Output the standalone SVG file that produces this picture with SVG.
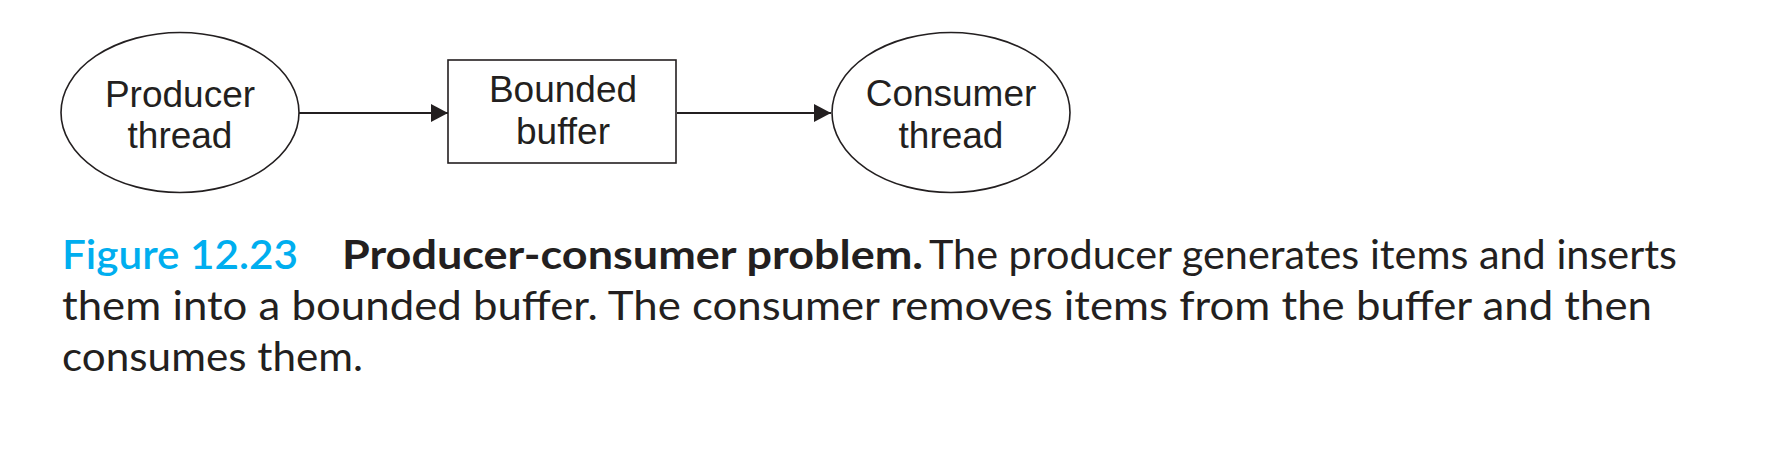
<svg xmlns="http://www.w3.org/2000/svg" width="1780" height="470" viewBox="0 0 1780 470">
<defs>
<style>
.shape{fill:#fff;stroke:#231f20;stroke-width:1.6}
.lbl{font-family:"Liberation Sans",Arial,sans-serif;font-size:37px;fill:#231f20;text-anchor:middle}
.edge{stroke:#231f20;stroke-width:2.2;fill:none}
.cap{font-family:Lato,"Noto Sans",sans-serif;font-size:40px;fill:#231f20}
.fig{fill:#00aeef;font-weight:600}
.b{font-weight:bold}
</style>
<marker id="ah" markerUnits="userSpaceOnUse" markerWidth="17" markerHeight="18" refX="17" refY="9" orient="auto">
<path d="M0,0 L17,9 L0,18 Z" fill="#231f20"/>
</marker>
</defs>
<rect width="1780" height="470" fill="#fff"/>
<g id="connectors">
<line class="edge" x1="299" y1="113" x2="448" y2="113" marker-end="url(#ah)"/>
<line class="edge" x1="677" y1="113" x2="831" y2="113" marker-end="url(#ah)"/>
</g>
<g id="producer">
<ellipse class="shape" cx="180" cy="112.5" rx="119" ry="80"/>
<text class="lbl" x="180" y="107">Producer</text>
<text class="lbl" x="180" y="148">thread</text>
</g>
<g id="buffer">
<rect class="shape" x="448" y="60" width="228" height="103"/>
<text class="lbl" x="563" y="102">Bounded</text>
<text class="lbl" x="563" y="144">buffer</text>
</g>
<g id="consumer">
<ellipse class="shape" cx="951" cy="112.5" rx="119" ry="80"/>
<text class="lbl" x="951" y="106">Consumer</text>
<text class="lbl" x="951" y="148">thread</text>
</g>
<g id="caption">
<text class="cap fig" x="62" y="269" textLength="236" lengthAdjust="spacingAndGlyphs">Figure 12.23</text>
<text class="cap b" x="342" y="269" textLength="581" lengthAdjust="spacingAndGlyphs">Producer-consumer problem.</text>
<text class="cap" x="929" y="269" textLength="748" lengthAdjust="spacingAndGlyphs">The producer generates items and inserts</text>
<text class="cap" x="62" y="320" textLength="1590" lengthAdjust="spacingAndGlyphs">them into a bounded buffer. The consumer removes items from the buffer and then</text>
<text class="cap" x="62" y="371" textLength="301" lengthAdjust="spacingAndGlyphs">consumes them.</text>
</g>
</svg>
